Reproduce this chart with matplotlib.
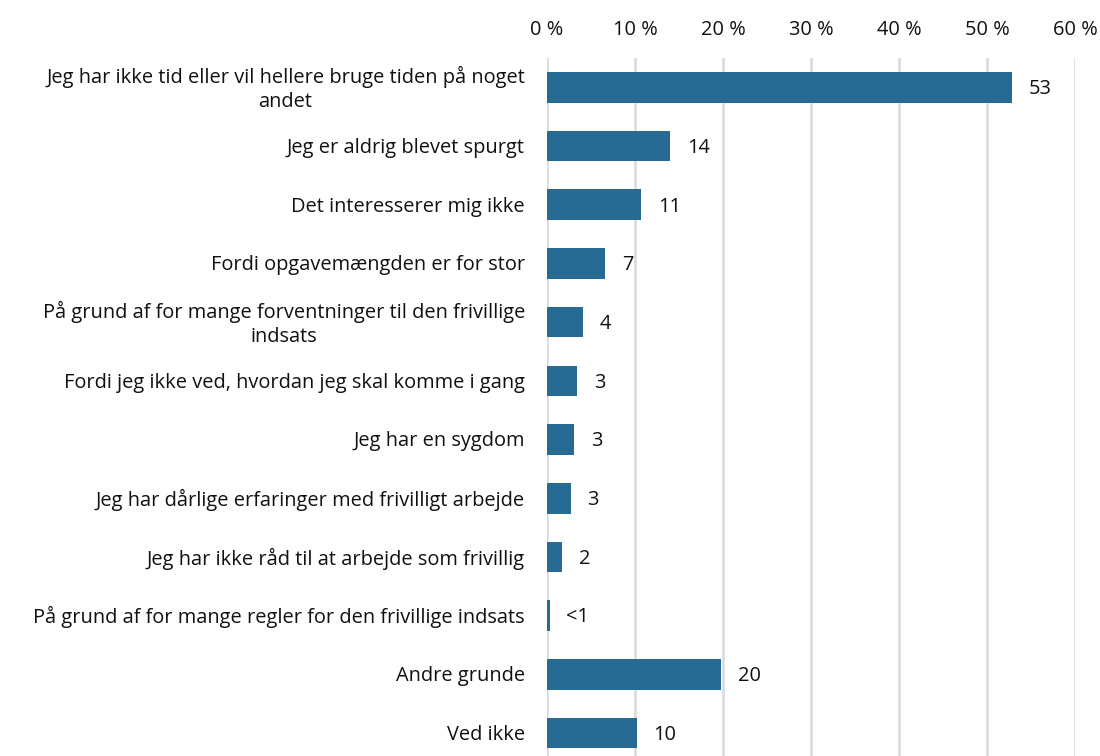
import matplotlib
matplotlib.use("Agg")
import matplotlib.pyplot as plt
from matplotlib.ticker import FuncFormatter
from matplotlib.transforms import blended_transform_factory

plt.rcParams['font.family'] = ['Open Sans', 'DejaVu Sans']

categories = [
    "Jeg har ikke tid eller vil hellere bruge tiden på noget\nandet",
    "Jeg er aldrig blevet spurgt",
    "Det interesserer mig ikke",
    "Fordi opgavemængden er for stor",
    "På grund af for mange forventninger til den frivillige\nindsats",
    "Fordi jeg ikke ved, hvordan jeg skal komme i gang",
    "Jeg har en sygdom",
    "Jeg har dårlige erfaringer med frivilligt arbejde",
    "Jeg har ikke råd til at arbejde som frivillig",
    "På grund af for mange regler for den frivillige indsats",
    "Andre grunde",
    "Ved ikke",
]
shares = [52.8, 14.0, 10.7, 6.6, 4.1, 3.4, 3.1, 2.7, 1.7, 0.3, 19.8, 10.2]

FS = 14.4


def label_for(v):
    return "<1" if v < 1 else str(int(round(v)))


fig = plt.figure(figsize=(11, 7.56), dpi=100)
ax = fig.add_axes([547 / 1100, 0, 528 / 1100, 698 / 756])

y = list(range(len(categories)))
ax.barh(y, shares, height=0.52, color="#276a92", zorder=3)
for yi, v in zip(y, shares):
    ax.text(v + 1.9, yi + 0.03, label_for(v), va="center", ha="left", fontsize=FS, color="#111111")

# category labels, right-aligned block with centred lines
trans = blended_transform_factory(ax.transAxes, ax.transData)
for yi, cat in zip(y, categories):
    ax.text(-22 / 528, yi + 0.03, cat, transform=trans, ha="right", va="center",
            multialignment="center", linespacing=1.25, fontsize=FS, color="#111111")

ax.set_xlim(0, 60)
ax.set_ylim(-0.5 + 698 / 58.7, -0.5)
ax.set_xticks(range(0, 61, 10))
ax.xaxis.set_major_formatter(FuncFormatter(lambda v, p: f"{int(v)} %"))
ax.xaxis.tick_top()
ax.tick_params(axis="x", length=0, pad=13, labelsize=FS, colors="#111111")
ax.set_yticks([])

ax.grid(axis="x", color="#d9d9d9", linewidth=1.8, zorder=0)
for s in ax.spines.values():
    s.set_visible(False)

fig.savefig("out.png", dpi=100)
